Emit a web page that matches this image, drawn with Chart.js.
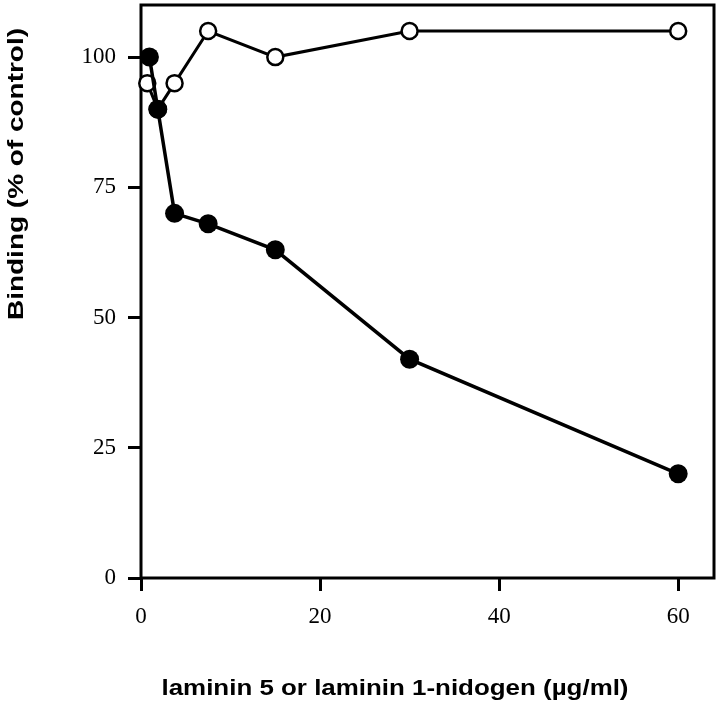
<!DOCTYPE html>
<html>
<head>
<meta charset="utf-8">
<script src="https://cdn.jsdelivr.net/npm/chart.js@4"></script>
<style>
    html, body { margin: 0; padding: 0; background: #fff; }
    #wrap { width: 720px; height: 706px; position: relative; }
</style>
</head>
<body>
<div id="wrap"><canvas id="chart"></canvas></div>
<script>
// concentrations (ug/ml) and binding (% of control)
const filledConc = [0.94, 1.875, 3.75, 7.5, 15, 30, 60];
const filledBinding = [100, 90, 70, 68, 63, 42, 20];
const openConc = [0.7, 1.875, 3.75, 7.5, 15, 30, 60];
const openBinding = [95, 90, 95, 105, 100, 105, 105];
const xTicks = [0, 20, 40, 60];
const yTicks = [0, 25, 50, 75, 100];

const xTitle = 'laminin 5 or laminin 1-nidogen (\u00b5g/ml)';
const yTitle = 'Binding (% of control)';

function toPoints(xs, ys) {
    return xs.map((x, i) => ({ x: x, y: ys[i] }));
}

// draws text stretched to a given length, like the original lettering
function drawStretched(ctx, text, cx, cy, length, angle) {
    ctx.save();
    ctx.font = 'bold 22px "Liberation Sans", Arial, sans-serif';
    ctx.fillStyle = '#000';
    ctx.textAlign = 'center';
    ctx.textBaseline = 'middle';
    const w = ctx.measureText(text).width;
    ctx.translate(cx, cy);
    ctx.rotate(angle);
    ctx.scale(length / w, 1);
    ctx.fillText(text, 0, 0);
    ctx.restore();
}

const framePlugin = {
    id: 'frame',
    beforeDatasetsDraw(chart) {
        const a = chart.chartArea;
        const ctx = chart.ctx;
        ctx.save();
        ctx.strokeStyle = '#000';
        ctx.lineWidth = 3;
        ctx.strokeRect(a.left, a.top, a.right - a.left, a.bottom - a.top);
        ctx.restore();
    },
    afterDraw(chart) {
        drawStretched(chart.ctx, yTitle, 17, 174, 292, -Math.PI / 2);
        drawStretched(chart.ctx, xTitle, 395, 689, 467, 0);
    }
};

function noPadding(scale) {
    scale.paddingTop = 0;
    scale.paddingBottom = 0;
    scale.paddingLeft = 0;
    scale.paddingRight = 0;
}

function initializeChart() {
    const ctx = document.getElementById('chart');
    new Chart(ctx, {
        type: 'line',
        data: {
            datasets: [
                {
                    label: 'filled',
                    data: toPoints(filledConc, filledBinding),
                    borderColor: '#000',
                    backgroundColor: '#000',
                    borderWidth: 3.5,
                    pointRadius: 9.5,
                    pointBorderWidth: 0,
                    pointBackgroundColor: '#000',
                    clip: false,
                    tension: 0
                },
                {
                    label: 'open',
                    data: toPoints(openConc, openBinding),
                    borderColor: '#000',
                    backgroundColor: '#fff',
                    borderWidth: 3,
                    pointRadius: 8,
                    pointBorderWidth: 2.5,
                    pointBorderColor: '#000',
                    pointBackgroundColor: '#fff',
                    clip: false,
                    tension: 0
                }
            ]
        },
        options: {
            responsive: true,
            maintainAspectRatio: false,
            animation: false,
            layout: { autoPadding: false, padding: { top: 5, right: 6, left: 0, bottom: 0 } },
            plugins: {
                legend: { display: false },
                tooltip: { enabled: false }
            },
            scales: {
                x: {
                    type: 'linear',
                    min: 0,
                    max: 64,
                    afterBuildTicks: scale => { scale.ticks = xTicks.map(v => ({ value: v })); },
                    afterFit: scale => { scale.height = 128; noPadding(scale); },
                    border: { display: false },
                    grid: {
                        drawOnChartArea: false,
                        drawTicks: true,
                        tickLength: 13,
                        tickWidth: 3,
                        tickColor: '#000'
                    },
                    ticks: {
                        color: '#000',
                        padding: 12,
                        maxRotation: 0,
                        font: { family: '"Liberation Serif", "Times New Roman", serif', size: 23 }
                    }
                },
                y: {
                    type: 'linear',
                    min: 0,
                    max: 110,
                    afterBuildTicks: scale => { scale.ticks = yTicks.map(v => ({ value: v })); },
                    afterFit: scale => { scale.width = 141; noPadding(scale); },
                    border: { display: false },
                    grid: {
                        drawOnChartArea: false,
                        drawTicks: true,
                        tickLength: 13,
                        tickWidth: 3,
                        tickColor: '#000'
                    },
                    ticks: {
                        color: '#000',
                        padding: 12,
                        font: { family: '"Liberation Serif", "Times New Roman", serif', size: 23 }
                    }
                }
            }
        },
        plugins: [framePlugin]
    });
}

initializeChart();
</script>
</body>
</html>
